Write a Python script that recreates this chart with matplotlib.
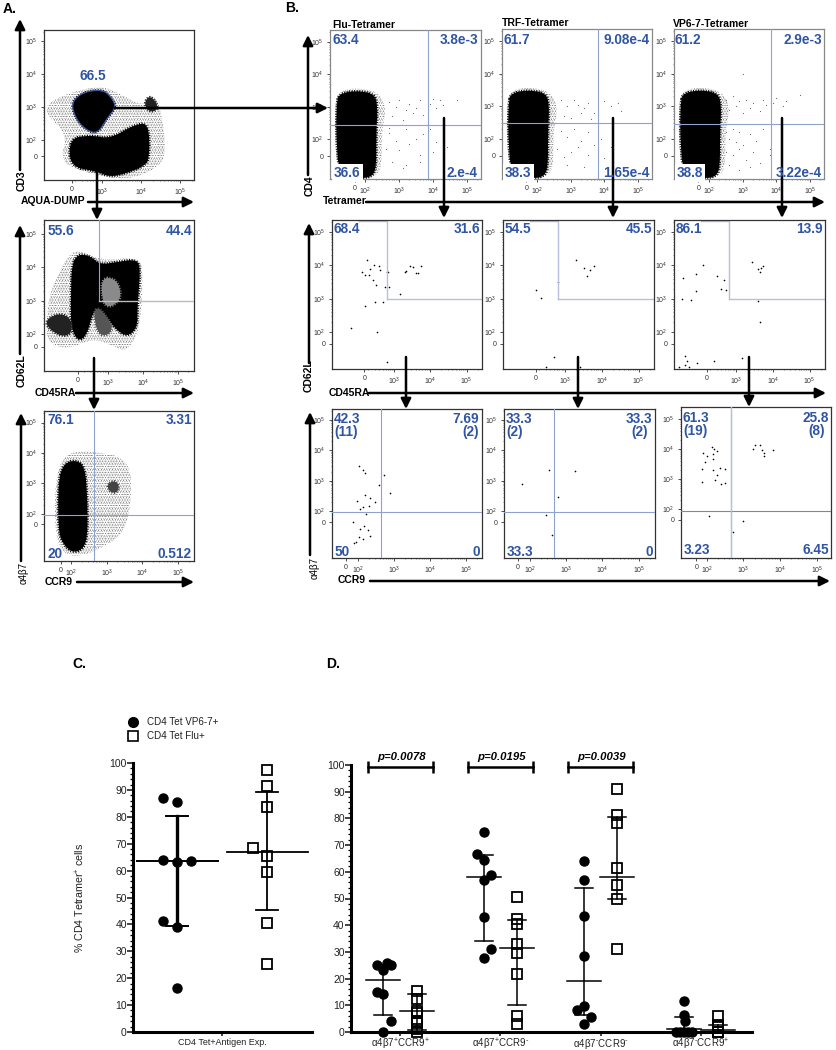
import numpy as np
import matplotlib
matplotlib.use('Agg')
import matplotlib.pyplot as plt
from matplotlib.lines import Line2D

plt.rcParams['font.family'] = ['Liberation Sans', 'DejaVu Sans']
plt.rcParams['mathtext.default'] = 'regular'
plt.rcParams['hatch.linewidth'] = 0.25

W, H = 837, 1050
BLUE = '#2f55a4'
GATE = '#8fa3cc'

# === flow data, x/y are display positions in decades (3 = 10^3) ===
a1_top_x = [2.22, 2.31, 2.61, 3.03, 3.25, 3.36, 3.12, 2.91, 2.69, 2.39]
a1_top_y = [2.99, 3.28, 3.48, 3.52, 3.28, 2.99, 2.64, 2.23, 2.23, 2.52]
a1_low_x = [2.16, 2.69, 3.21, 3.80, 4.20, 4.22, 4.06, 3.63, 3.21, 2.86, 2.18]
a1_low_y = [2.03, 2.14, 2.03, 2.44, 2.52, 1.42, 1.18, 0.98, 0.86, 1.03, 1.18]
a1_spot_x = [4.08, 4.2, 4.4, 4.42, 4.2]
a1_spot_y = [3.1, 3.35, 3.15, 2.9, 2.85]
a1_halo_x = [1.58, 2.23, 2.95, 3.38, 4.06, 4.23, 4.49, 4.66, 4.40, 3.63, 2.52, 1.92, 2.11, 1.58]
a1_halo_y = [3.11, 3.46, 3.64, 3.46, 3.00, 3.40, 3.11, 1.58, 1.11, 0.76, 1.00, 1.35, 2.17, 2.75]

a2_blob_x = [1.96, 2.15, 2.49, 2.77, 3.25, 3.82, 3.93, 3.84, 3.84, 3.53, 3.15, 2.77, 2.58, 2.39, 2.15, 1.94, 1.94]
a2_blob_y = [4.08, 4.40, 4.34, 4.08, 4.16, 4.24, 3.96, 2.80, 2.18, 1.90, 2.22, 2.80, 2.69, 1.96, 1.78, 2.18, 3.03]
a2_left_x = [1.25, 1.63, 1.96, 1.96, 1.63, 1.25]
a2_left_y = [2.45, 2.63, 2.45, 1.99, 1.93, 2.22]
a2_mid_x = [2.58, 2.77, 3.15, 3.0, 2.7]
a2_mid_y = [2.69, 2.8, 2.22, 1.95, 2.0]
a2_gap_x = [2.80, 3.25, 3.40, 3.10, 2.85]
a2_gap_y = [3.70, 3.65, 3.10, 2.80, 2.90]
a2_halo_x = [1.25, 1.34, 1.82, 2.15, 2.77, 3.91, 4.01, 3.91, 3.53, 3.15, 2.58, 1.82, 1.25]
a2_halo_y = [2.45, 3.27, 4.31, 4.54, 4.20, 4.31, 3.73, 2.11, 1.47, 1.64, 1.87, 1.53, 1.76]

a3_blob_x = [1.64, 1.79, 2.11, 2.39, 2.46, 2.46, 2.30, 2.02, 1.79, 1.64]
a3_blob_y = [3.07, 3.64, 3.77, 3.58, 2.44, 1.18, 0.80, 0.74, 0.99, 1.43]
a3_spot_x = [3.0, 3.2, 3.35, 3.3, 3.1]
a3_spot_y = [2.95, 3.1, 2.95, 2.7, 2.7]
a3_halo_x = [1.55, 1.79, 2.44, 3.65, 3.70, 3.47, 2.72, 2.25, 1.79, 1.55]
a3_halo_y = [3.07, 3.96, 4.08, 3.83, 2.44, 1.31, 0.80, 0.61, 0.67, 1.31]

b_blob_x = [1.15, 1.22, 1.73, 2.27, 2.36, 2.32, 2.32, 2.20, 1.84, 1.22, 1.13]
b_blob_y = [3.12, 3.40, 3.50, 3.40, 3.00, 2.18, 1.14, 0.84, 0.79, 0.86, 2.18]
b_halo_x = [1.08, 1.25, 1.75, 2.35, 2.62, 2.48, 2.48, 2.25, 1.85, 1.12]
b_halo_y = [3.10, 3.50, 3.58, 3.47, 3.00, 2.20, 1.10, 0.82, 0.78, 1.00]

flu_tet_x = [2.7, 2.9, 3.0, 3.2, 3.3, 3.5, 3.6, 3.7, 3.9, 4.0, 4.1, 4.2, 4.3, 4.7, 2.8, 3.1, 3.4, 2.7, 2.9, 3.2, 3.5, 3.7, 4.1, 2.6, 3.0, 3.3, 3.6, 4.0, 4.4, 2.8, 3.2, 3.6, 2.7, 3.9, 3.1]
flu_tet_y = [3.15, 3.0, 3.2, 2.9, 3.1, 2.95, 3.2, 2.75, 3.1, 3.25, 2.95, 3.2, 3.05, 3.2, 2.7, 2.6, 2.8, 2.2, 1.95, 2.3, 2.0, 2.15, 1.9, 1.7, 1.65, 1.85, 1.5, 1.6, 1.75, 1.3, 1.2, 1.3, 2.35, 2.3, 1.1]
trf_tet_x = [2.7, 2.9, 3.1, 3.2, 3.4, 3.5, 3.7, 4.0, 4.2, 4.4, 4.5, 2.8, 3.0, 3.3, 3.6, 2.7, 2.9, 3.1, 3.3, 3.5, 3.7, 3.9, 2.6, 3.0, 3.2, 3.5, 3.8, 4.0, 4.2, 2.9, 3.4, 2.8]
trf_tet_y = [3.2, 3.0, 3.2, 3.05, 2.95, 3.1, 2.8, 3.15, 3.0, 3.1, 2.85, 2.7, 2.65, 2.8, 2.6, 2.25, 2.05, 2.3, 1.95, 2.2, 1.8, 2.0, 1.7, 1.6, 1.75, 1.5, 1.65, 1.4, 1.75, 1.2, 1.15, 1.45]
vp_tet_x = [2.5, 2.6, 2.7, 2.8, 2.9, 3.0, 3.1, 3.2, 3.3, 3.5, 3.6, 3.7, 3.9, 4.0, 4.2, 4.3, 4.7, 2.5, 2.6, 2.7, 2.8, 2.9, 3.0, 3.2, 3.4, 3.6, 3.8, 2.5, 2.7, 2.9, 3.1, 3.3, 3.5, 3.8, 2.6, 2.9, 3.2, 3.0, 2.8]
vp_tet_y = [3.2, 2.9, 3.3, 3.0, 3.15, 2.8, 3.2, 2.95, 3.1, 2.85, 3.2, 3.05, 3.1, 3.25, 3.0, 3.15, 3.35, 2.2, 2.0, 2.3, 1.9, 2.2, 1.8, 2.15, 1.95, 2.3, 1.7, 1.6, 1.5, 1.7, 1.35, 1.6, 1.25, 1.5, 1.2, 1.05, 1.15, 4.0, 2.45]

flu_62_x = [2.26, 2.14, 2.22, 2.32, 2.34, 2.46, 2.61, 2.63, 2.42, 2.51, 2.81, 2.85, 2.75, 2.86, 3.16, 2.50, 2.21, 2.70, 1.84, 2.53, 2.81, 3.31, 3.35, 3.45, 3.54, 3.74, 3.62, 3.67]
flu_62_y = [4.16, 3.81, 3.72, 3.72, 3.89, 4.01, 3.99, 3.87, 3.57, 3.42, 3.79, 3.81, 3.34, 3.34, 3.15, 2.91, 2.77, 2.89, 2.11, 2.01, 1.09, 3.79, 3.84, 3.99, 3.94, 3.99, 3.76, 3.77]
trf_62_x = [2.22, 2.34, 3.30, 3.52, 3.69, 3.80, 3.60, 2.81, 2.70, 2.49, 3.41]
trf_62_y = [3.26, 3.01, 4.16, 3.93, 3.87, 3.98, 3.67, 3.49, 1.24, 0.94, 0.94]
vp_62_x = [2.09, 1.56, 1.91, 1.91, 1.54, 1.78, 2.48, 2.68, 2.60, 2.73, 3.43, 3.59, 3.64, 3.67, 3.74, 3.59, 3.64, 1.61, 1.66, 1.61, 1.94, 2.39, 3.15, 1.45, 1.71]
vp_62_y = [4.01, 3.63, 3.74, 3.23, 2.99, 2.96, 3.67, 3.57, 3.29, 3.26, 4.11, 3.89, 3.81, 3.91, 3.99, 2.94, 2.31, 1.29, 1.14, 1.01, 1.07, 1.12, 1.22, 0.96, 0.94]

flu_ccr_x = [2.02, 2.15, 2.20, 2.72, 2.60, 2.90, 2.20, 1.97, 2.35, 2.48, 2.13, 2.05, 2.30, 2.23, 1.85, 2.18, 2.05, 2.28, 2.35, 2.02, 2.13, 1.95, 1.88]
flu_ccr_y = [3.48, 3.37, 3.26, 3.20, 2.87, 2.60, 2.52, 2.33, 2.42, 2.31, 2.14, 2.07, 2.16, 1.92, 1.63, 1.51, 1.40, 1.38, 1.18, 1.16, 1.07, 0.99, 0.96]
trf_ccr_x = [2.53, 3.25, 1.78, 2.78, 2.45, 2.60]
trf_ccr_y = [3.37, 3.32, 2.91, 2.47, 1.87, 1.23]
vp_ccr_x = [2.13, 1.91, 2.00, 2.17, 2.16, 2.29, 2.19, 1.95, 1.86, 2.16, 2.35, 2.49, 2.29, 2.22, 2.39, 2.51, 1.88, 3.32, 3.26, 3.44, 3.51, 3.57, 3.56, 3.81, 2.06, 3.00, 2.71]
vp_ccr_y = [4.07, 3.87, 3.76, 3.84, 3.67, 3.92, 4.00, 3.56, 3.34, 3.29, 3.37, 3.34, 3.14, 2.98, 2.83, 2.87, 2.89, 4.12, 4.00, 4.14, 3.98, 3.87, 3.78, 3.96, 1.76, 1.61, 1.22]

# === Scatter data, panel C ===
c_vp_x = [0.84, 1.0, 0.84, 1.0, 1.16, 0.84, 1.0, 1.0]
c_vp_y = [87, 85.6, 64, 63.1, 63.6, 41.4, 38.9, 16.4]
c_flu_x = [2.0, 2.0, 2.0, 1.84, 2.0, 2.0, 2.0, 2.0]
c_flu_y = [97.3, 91.3, 83.5, 68.4, 65.5, 59.3, 40.6, 25.2]
c_vp_stats = [63.4, 39.5, 80.3]
c_flu_stats = [67.0, 45.3, 89.3]

# === Scatter data, panel D ===
d_labels = [r'α4β7$^{+}$CCR9$^{+}$', r'α4β7$^{+}$CCR9$^{\text{-}}$', r'α4β7$^{\text{-}}$CCR9$^{\text{-}}$', r'α4β7$^{\text{-}}$CCR9$^{+}$']
d_pvalues = ['p=0.0078', 'p=0.0195', 'p=0.0039']
d_vp_off = [[-0.067, 0.04, 0.073, 0, -0.067, 0, 0.073, 0],
            [0, -0.07, 0, 0.07, 0, 0, 0.07, 0],
            [0, 0, 0, 0, 0, -0.07, 0.07, 0],
            [0, 0, 0.01, -0.08, -0.04, 0, 0.04, 0.08]]
d_vp_y = [[25, 25.9, 25, 23.4, 15, 14.4, 4, 0],
          [75, 66.6, 64.4, 58.8, 57.1, 42.9, 31, 27.9],
          [64, 57, 43.6, 28.5, 9.9, 8.1, 5.6, 3.1],
          [11.6, 6.2, 4, 0, 0, 0, 0, 0]]
d_flu_y = [[15.4, 12.3, 8, 7, 4, 3.5, 1, 0],
           [50.5, 42.5, 40.3, 32.8, 29.6, 21.6, 6, 3],
           [91, 81.4, 78.4, 61.4, 54.9, 50, 31],
           [6, 2.5, 1.9, 0, 0]]
d_vp_stats = [[19.3, 6.5, 25], [57.9, 34, 66.3], [19.1, 6.5, 53.9], [1.2, 0, 5.6]]
d_flu_stats = [[7.8, 0.9, 14.4], [31.3, 10, 41.8], [58.1, 50, 80.6], [0.6, 0, 2.5]]

fig = plt.figure(figsize=(W / 100, H / 100), dpi=100)
fig.patch.set_facecolor('white')


def box_axes(x0, y0, x1, y1):
    return fig.add_axes([x0 / W, 1 - y1 / H, (x1 - x0) / W, (y1 - y0) / H])


def flow_panel(box, xlim, ylim, x0, y0, x_has_100=True, edge='#333333'):
    ax = box_axes(*box)
    ax.set_xlim(xlim)
    ax.set_ylim(ylim)
    xt = ([x0, 2] if x_has_100 else [x0]) + [3, 4, 5]
    xl = (['0', '10$^{2}$'] if x_has_100 else ['0']) + ['10$^{3}$', '10$^{4}$', '10$^{5}$']
    ax.set_xticks(xt, xl)
    ax.set_yticks([y0, 2, 3, 4, 5], ['0', '10$^{2}$', '10$^{3}$', '10$^{4}$', '10$^{5}$'])
    minor = [d + np.log10(m) for d in (2, 3, 4, 5) for m in range(2, 10)]
    ax.set_xticks([m for m in minor if m < xlim[1]], minor=True)
    ax.set_yticks([m for m in minor if m < ylim[1]], minor=True)
    ax.tick_params(which='major', labelsize=5, length=2, width=0.6, pad=2.5, colors='#333333')
    ax.tick_params(which='minor', length=1, width=0.4, colors='#333333')
    for s in ax.spines.values():
        s.set_linewidth(0.9)
        s.set_color(edge)
    return ax


# rounds off the corners of a hand read outline
def smooth(x, y, n=2):
    pts = np.column_stack([x, y])
    for _ in range(n):
        nxt = np.roll(pts, -1, axis=0)
        pts = np.column_stack([0.75 * pts + 0.25 * nxt, 0.25 * pts + 0.75 * nxt]).reshape(-1, 2)
    return np.append(pts[:, 0], pts[0, 0]), np.append(pts[:, 1], pts[0, 1])


def blob(ax, x, y, color='k'):
    sx, sy = smooth(x, y)
    ax.fill(sx, sy, color=color, lw=0, zorder=2)
    ax.plot(sx, sy, color=color, lw=2.0, ls=(0, (0.35, 0.55)), zorder=2)


def halo(ax, x, y):
    sx, sy = smooth(x, y)
    ax.fill(sx, sy, facecolor='none', hatch='......', edgecolor='#555555', lw=0, zorder=1)
    ax.fill(sx, sy, facecolor='none', hatch='.........', edgecolor='#777777', lw=0, zorder=1)


def quad(ax, vx, hy, color=GATE, lw=0.8):
    ax.axvline(vx, color=color, lw=lw, zorder=3)
    ax.axhline(hy, color=color, lw=lw, zorder=3)


def corner(ax, vx, hy, left):
    top = ax.get_ylim()[1] - 0.03
    ax.plot([left, vx, vx], [top, top, hy], color='#b4c0dc', lw=1.0)
    ax.plot([vx, ax.get_xlim()[1]], [hy, hy], color='#b4c0dc', lw=1.0)


def dots(ax, x, y, size=1.4, color='black'):
    ax.scatter(x, y, s=size, c=color, linewidths=0, zorder=2)


# === Panel A ===
ax = flow_panel((44, 30, 194, 180), (1.51, 5.36), (0.77, 5.35), 2.23, 1.5, False)
halo(ax, a1_halo_x, a1_halo_y)
blob(ax, a1_top_x, a1_top_y)
blob(ax, a1_low_x, a1_low_y)
blob(ax, a1_spot_x, a1_spot_y, '#222222')
gx, gy = smooth(a1_top_x, a1_top_y)
ax.plot(gx, gy, color='#3a55a0', lw=0.8, zorder=3)

ax = flow_panel((44, 220, 194, 371), (1.17, 5.46), (0.89, 5.42), 2.14, 1.62, False)
halo(ax, a2_halo_x, a2_halo_y)
blob(ax, a2_blob_x, a2_blob_y)
blob(ax, a2_left_x, a2_left_y, '#222222')
blob(ax, a2_mid_x, a2_mid_y, '#555555')
blob(ax, a2_gap_x, a2_gap_y, '#8a8a8a')
ax.plot([2.75, 2.75], [5.42, 3.0], color=GATE, lw=0.8, zorder=3)
ax.plot([2.75, 5.46], [3.0, 3.0], color='#b8bcc8', lw=1.0, zorder=3)

ax = flow_panel((44, 411, 194, 561), (1.24, 5.45), (0.45, 5.38), 1.72, 1.66)
halo(ax, a3_halo_x, a3_halo_y)
blob(ax, a3_blob_x, a3_blob_y)
blob(ax, a3_spot_x, a3_spot_y, '#444444')
quad(ax, 2.65, 1.96)

# === Panel B, top row ===
row1_x = (0.95, 5.42)
row1_y = (0.77, 5.37)
row1 = [((330, 30, 481, 179), flu_tet_x, flu_tet_y, 3.84, 2.44),
        ((502, 29, 652, 179), trf_tet_x, trf_tet_y, 3.81, 2.48),
        ((674, 29, 824, 179), vp_tet_x, vp_tet_y, 3.83, 2.46)]
for box, px, py, vx, hy in row1:
    ax = flow_panel(box, row1_x, row1_y, 1.68, 1.48, True, '#888888')
    halo(ax, b_halo_x, b_halo_y)
    blob(ax, b_blob_x, b_blob_y)
    dots(ax, px, py, 0.7, '#666666')
    quad(ax, vx, hy)

# === Panel B, middle row ===
row2_x = (1.31, 5.42)
row2_y = (0.89, 5.36)
row2 = [((332, 220, 482, 369), flu_62_x, flu_62_y, 2.81),
        ((503, 220, 654, 369), trf_62_x, trf_62_y, 2.81),
        ((674, 220, 825, 369), vp_62_x, vp_62_y, 2.80)]
for box, px, py, vx in row2:
    ax = flow_panel(box, row2_x, row2_y, 2.2, 1.64, False)
    dots(ax, px, py)
    corner(ax, vx, 3.0, 2.04)

# === Panel B, bottom row ===
row3 = [((332, 409, 482, 558), (1.28, 5.45), (0.46, 5.36), 1.67, 1.64, flu_ccr_x, flu_ccr_y, 2.64, 1.96, GATE),
        ((504, 409, 655, 558), (1.28, 5.45), (0.46, 5.36), 1.67, 1.64, trf_ccr_x, trf_ccr_y, 2.65, 1.96, GATE),
        ((681, 407, 831, 558), (1.30, 5.38), (0.37, 5.40), 1.72, 1.64, vp_ccr_x, vp_ccr_y, 2.67, 1.94, '#808890')]
for box, xl, yl, x0, y0, px, py, vx, hy, col in row3:
    ax = flow_panel(box, xl, yl, x0, y0)
    dots(ax, px, py)
    quad(ax, vx, hy, col)
    if col != GATE:
        ax.axvline(vx, color='#b4c0dc', lw=1.0, zorder=3)


# === Panel C ===
def scatter_axes(box, xlim, tick_w=2.2):
    ax = box_axes(*box)
    ax.set_xlim(xlim)
    ax.set_ylim(0, 100)
    ax.set_yticks(range(0, 101, 10))
    ax.set_yticks(range(0, 101, 2), minor=True)
    for s in ('top', 'right'):
        ax.spines[s].set_visible(False)
    for s in ('left', 'bottom'):
        ax.spines[s].set_linewidth(tick_w)
    ax.tick_params(axis='y', which='major', labelsize=7.5, length=4, width=1.2, pad=0.5, colors='#222222')
    ax.tick_params(axis='y', which='minor', length=2, width=0.9)
    ax.patch.set_alpha(0)
    return ax


def stat_bars(ax, cx, stats, half, cap, lw, lw_v=None):
    mid, low, high = stats
    ax.plot([cx - half, cx + half], [mid, mid], 'k', lw=lw, zorder=4, clip_on=False)
    ax.plot([cx, cx], [low, high], 'k', lw=lw_v or lw, zorder=4)
    ax.plot([cx - cap, cx + cap], [low, low], 'k', lw=lw, zorder=4, clip_on=False)
    ax.plot([cx - cap, cx + cap], [high, high], 'k', lw=lw, zorder=4)


ax = scatter_axes((133, 763, 312, 1032), (0.51, 2.5))
ax.plot(c_vp_x, c_vp_y, 'o', color='k', ms=6.5, ls='none', zorder=3)
ax.plot(c_flu_x, c_flu_y, 's', mfc='none', mec='k', mew=1.3, ms=7, ls='none', zorder=3)
stat_bars(ax, 1.0, c_vp_stats, 0.45, 0.125, 1.4, 2.4)
stat_bars(ax, 2.0, c_flu_stats, 0.45, 0.125, 1.3)
ax.set_xticks([1.5], ['CD4 Tet+Antigen Exp.'])
ax.tick_params(axis='x', labelsize=6.5, length=3, width=1.2, pad=1, colors='#222222')
ax.set_ylabel('% CD4 Tetramer$^{+}$ cells', fontsize=7.7, color='#222222', labelpad=16)
handles = [Line2D([], [], marker='o', color='k', ls='none', ms=7),
           Line2D([], [], marker='s', mfc='none', mec='k', mew=1.2, ls='none', ms=7.5)]
fig.legend(handles, ['CD4 Tet VP6-7+', 'CD4 Tet Flu+'], loc='upper left', bbox_to_anchor=(123 / W, 1 - 717 / H),
           frameon=False, fontsize=7.1, labelspacing=0.45, handletextpad=0.4, borderpad=0, borderaxespad=0,
           labelcolor='#222222')

# === Panel D ===
ax = scatter_axes((351, 765, 752, 1032), (0.51, 4.51))
for i in range(4):
    g = i + 1
    vx = [g - 0.167 + o for o in d_vp_off[i]]
    fx = [g + 0.167] * len(d_flu_y[i])
    ax.plot(vx, d_vp_y[i], 'o', color='k', ms=6.5, ls='none', clip_on=False, zorder=3)
    ax.plot(fx, d_flu_y[i], 's', mfc='none', mec='k', mew=1.3, ms=7, ls='none', clip_on=False, zorder=3)
    stat_bars(ax, g - 0.167, d_vp_stats[i], 0.17, 0.09, 1.1)
    stat_bars(ax, g + 0.167, d_flu_stats[i], 0.17, 0.09, 1.1)
ax.set_xticks([1, 2, 3, 4], d_labels)
ax.tick_params(axis='x', labelsize=7, length=3, width=1.2, pad=0.5, colors='#222222')
for g, p in zip([1, 2, 3], d_pvalues):
    ax.plot([g - 0.325, g + 0.325], [99.4, 99.4], 'k', lw=1.8, clip_on=False, zorder=4,
            marker='|', ms=9, mew=1.8)
    ax.text(g + 0.01, 103, p, ha='center', va='center', fontsize=8.2, fontweight='bold', style='italic')

# === Overlay in reference pixels, for arrows and labels ===
ov = fig.add_axes([0, 0, 1, 1], zorder=10)
ov.set_xlim(0, W)
ov.set_ylim(H, 0)
ov.axis('off')


def arrow(x0, y0, x1, y1, lw=1.8):
    ov.annotate('', xy=(x1, y1), xytext=(x0, y0),
                arrowprops=dict(arrowstyle='-|>', color='k', lw=lw, mutation_scale=15, shrinkA=0, shrinkB=0))


axis_arrows = [(20, 170, 20, 19), (88, 202, 194, 202), (115, 108, 328, 108), (97, 165, 97, 220),
               (20, 354, 20, 225), (76, 393, 194, 393), (94, 358, 94, 410), (21, 561, 21, 413),
               (77, 582, 194, 582), (308, 175, 308, 35), (366, 202, 825, 202), (444, 118, 444, 218),
               (613, 118, 613, 218), (782, 118, 782, 218), (309, 363, 309, 223), (369, 393, 826, 393),
               (406, 357, 406, 409), (578, 357, 578, 409), (749, 357, 749, 407), (310, 555, 310, 412),
               (370, 581, 830, 581)]
for a in axis_arrows:
    arrow(*a)


def bold(x, y, s, size=7.5, **kw):
    ov.text(x, y, s, fontsize=size, fontweight='bold', va='center', **kw)


for x, y, s in [(21, 201, 'AQUA-DUMP'), (35, 393, 'CD45RA'), (45, 582, 'CCR9'), (323, 201, 'Tetramer'),
                (329, 393, 'CD45RA'), (338, 580, 'CCR9'), (332, 25, 'Flu-Tetramer'),
                (502, 23, 'TRF-Tetramer'), (673, 24, 'VP6-7-Tetramer')]:
    bold(x, y, s)
for x, y, s in [(22, 181, 'CD3'), (22, 371, 'CD62L'), (310, 186, 'CD4'), (309, 376, 'CD62L')]:
    bold(x, y, s, rotation=90, ha='center')
for x, y in [(24, 573), (315, 568)]:
    ov.text(x, y, 'α4β7', fontsize=7, rotation=90, ha='center', va='center')
for x, y, s in [(3, 9, 'A.'), (285, 8, 'B.'), (72, 664, 'C.'), (326, 664, 'D.')]:
    bold(x, y, s, size=10)

# quadrant labels, left aligned then right aligned
left_labels = [(48, 231, '55.6'), (47, 420, '76.1'), (48, 554, '20'),
               (333, 40, '63.4'), (504, 40, '61.7'), (675, 40, '61.2'),
               (334, 229, '68.4'), (505, 229, '54.5'), (676, 229, '86.1'),
               (334, 419, '42.3'), (334, 432, '(11)'), (335, 552, '50'),
               (506, 419, '33.3'), (506, 432, '(2)'), (507, 552, '33.3'),
               (683, 418, '61.3'), (683, 431, '(19)'), (684, 550, '3.23')]
right_labels = [(192, 231, '44.4'), (192, 420, '3.31'), (192, 554, '0.512'),
                (478, 40, '3.8e-3'), (650, 40, '9.08e-4'), (822, 40, '2.9e-3'),
                (480, 229, '31.6'), (652, 229, '45.5'), (823, 229, '13.9'),
                (479, 419, '7.69'), (479, 432, '(2)'), (480, 552, '0'),
                (652, 419, '33.3'), (648, 432, '(2)'), (653, 552, '0'),
                (829, 418, '25.8'), (825, 431, '(8)'), (829, 550, '6.45')]
for x, y, s in left_labels:
    bold(x, y, s, size=9.8, color=BLUE, ha='left')
for x, y, s in right_labels:
    bold(x, y, s, size=9.8, color=BLUE, ha='right')
bold(93, 76, '66.5', size=9.8, color=BLUE, ha='center')

white = dict(facecolor='white', edgecolor='none', pad=1.5)
for x, y, s in [(334, 173, '36.6'), (505, 173, '38.3'), (677, 173, '38.8')]:
    ov.text(x, y, s, fontsize=9.8, fontweight='bold', color=BLUE, va='center', ha='left', bbox=white)
for x, y, s in [(478, 173, '2.e-4'), (650, 173, '1.65e-4'), (822, 173, '3.22e-4')]:
    ov.text(x, y, s, fontsize=9.8, fontweight='bold', color=BLUE, va='center', ha='right')

fig.savefig('out.png', dpi=100)
